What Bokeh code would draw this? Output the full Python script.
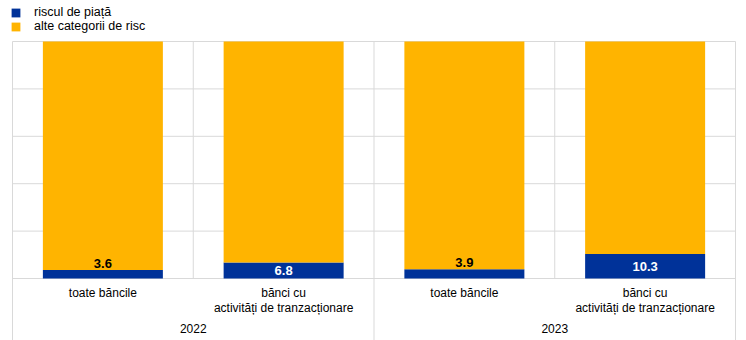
from bokeh.plotting import figure
from bokeh.models import Range1d, ColumnDataSource, Legend, LegendItem
from bokeh.core.properties import value
from bokeh.embed import file_html
from bokeh.resources import INLINE

# ---- data ----
categories = ["toate băncile", "bănci cu\nactivități de tranzacționare",
              "toate băncile", "bănci cu\nactivități de tranzacționare"]
years = ["2022", "2023"]
market_risk = [3.6, 6.8, 3.9, 10.3]
other_risk = [100 - v for v in market_risk]
series_names = ["riscul de piață", "alte categorii de risc"]
y_ticks = [0, 20, 40, 60, 80, 100]

BLUE = "#003299"
YELLOW = "#FFB400"
GRID = "#d9d9d9"
FONT = "Liberation Sans"

W, H = 746, 340
left_px, right_px, top_px, bottom_px = 12, 735, 41, 278
n = len(categories)
ux = (right_px - left_px) / n
uy = (bottom_px - top_px) / 100.0

p = figure(width=W, height=H, output_backend="svg", toolbar_location=None,
           min_border=0, min_border_left=0, min_border_right=0,
           min_border_top=0, min_border_bottom=0,
           x_range=Range1d(-left_px / ux, n + (W - right_px) / ux),
           y_range=Range1d(-(H - bottom_px) / uy, 100 + top_px / uy))
p.xaxis.visible = False
p.yaxis.visible = False
p.grid.visible = False
p.outline_line_color = None
p.background_fill_color = "white"
p.border_fill_color = "white"

xs = [i + 0.5 for i in range(n)]
ybot = -(H - bottom_px) / uy

# horizontal grid lines
p.segment(x0=[0] * len(y_ticks), x1=[n] * len(y_ticks), y0=y_ticks, y1=y_ticks,
          line_color=GRID, line_width=1)
# inner separators (within a year)
inner = [i for i in range(1, n) if i % 2 == 1]
p.segment(x0=inner, x1=inner, y0=[0] * len(inner), y1=[100] * len(inner),
          line_color=GRID, line_width=1)
# outer separators (between years)
outer = [i for i in range(0, n + 1) if i % 2 == 0]
p.segment(x0=outer, x1=outer, y0=[ybot] * len(outer), y1=[100] * len(outer),
          line_color=GRID, line_width=1)

src = ColumnDataSource(dict(x=xs, m=market_risk, o=other_risk,
                            top_m=market_risk,
                            top_o=[a + b for a, b in zip(market_risk, other_risk)]))
bw = 120 / ux
r1 = p.vbar(x="x", bottom=0, top="top_m", width=bw, source=src,
            fill_color=BLUE, line_color=None)
r2 = p.vbar(x="x", bottom="top_m", top="top_o", width=bw, source=src,
            fill_color=YELLOW, line_color=None)

# value labels
lab_x, lab_y, lab_t, lab_c, lab_b = [], [], [], [], []
for x, v in zip(xs, market_risk):
    lab_x.append(x)
    lab_t.append(f"{v:.1f}")
    if v < 5:
        lab_y.append(v + 1.0)
        lab_c.append("#000000")
        lab_b.append("bottom")
    else:
        lab_y.append(v / 2)
        lab_c.append("#ffffff")
        lab_b.append("middle")
lsrc = ColumnDataSource(dict(x=lab_x, y=lab_y, t=lab_t, c=lab_c, b=lab_b))
p.text(x="x", y="y", text="t", text_color="c", text_baseline="b", source=lsrc,
       text_align="center", text_font=value(FONT), text_font_size="13px",
       text_font_style="bold")

# category labels
p.text(x=xs, y=[-(285 - bottom_px) / uy] * n, text=categories,
       text_align="center", text_baseline="top", text_font=value(FONT),
       text_font_size="12px", text_color="#000000", text_line_height=1.12)
# year labels
p.text(x=[2 * i + 1 for i in range(len(years))], y=[-(328 - bottom_px) / uy] * len(years),
       text=years, text_align="center", text_baseline="middle",
       text_font=value(FONT), text_font_size="12px", text_color="#000000")

legend = Legend(items=[LegendItem(label=series_names[0], renderers=[r1]),
                       LegendItem(label=series_names[1], renderers=[r2])],
                location=(10, H - 33), orientation="vertical",
                padding=3, margin=0, spacing=0,
                glyph_width=11, glyph_height=11, label_height=12,
                label_standoff=13, label_text_font=FONT,
                label_text_font_size="12.5px", label_text_color="#000000",
                border_line_color=None, background_fill_alpha=0)
p.add_layout(legend, "center")

open("out.html", "w").write(file_html(p, INLINE))
